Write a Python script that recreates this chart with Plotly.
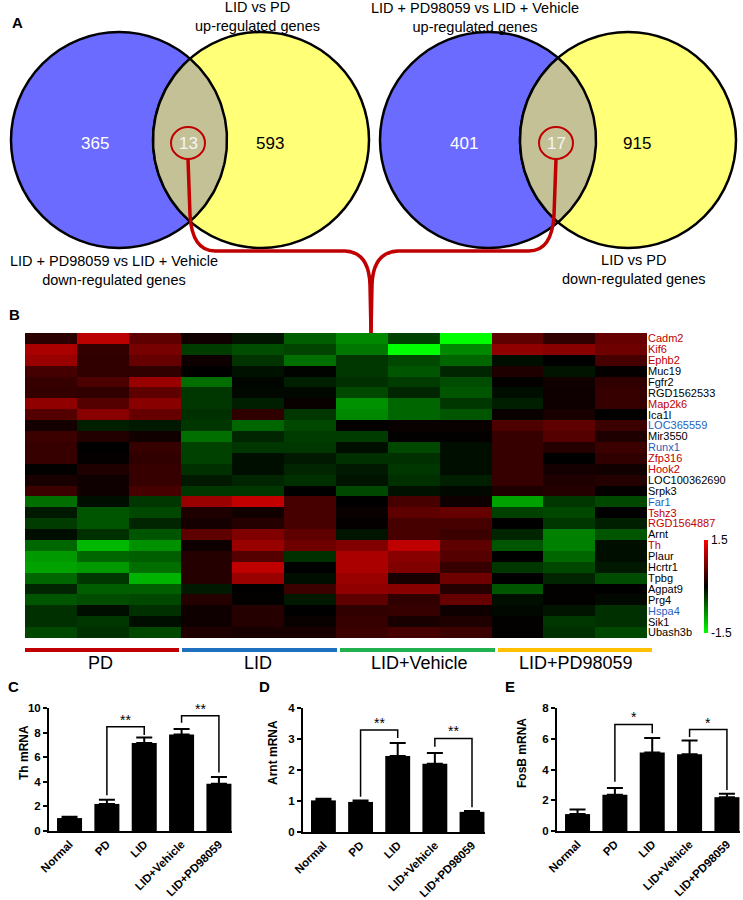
import numpy as np
import plotly.graph_objects as go

W, H = 743, 900
FONT = "Arial, Liberation Sans, sans-serif"

# ---------------- Venn data ----------------
venn_left_counts = [365, 13, 593]
venn_right_counts = [401, 17, 915]
venn_left_titles = ["LID vs PD", "up-regulated genes"]
venn_left_bottom = ["LID + PD98059 vs LID + Vehicle", "down-regulated genes"]
venn_right_titles = ["LID + PD98059 vs LID + Vehicle", "up-regulated genes"]
venn_right_bottom = ["LID vs PD", "down-regulated genes"]

# ---------------- Heatmap data ----------------
genes = ["Cadm2", "Kif6", "Ephb2", "Muc19", "Fgfr2", "RGD1562533", "Map2k6", "Ica1l",
         "LOC365559", "Mir3550", "Runx1", "Zfp316", "Hook2", "LOC100362690", "Srpk3",
         "Far1", "Tshz3", "RGD1564887", "Arnt", "Th", "Plaur", "Hcrtr1", "Tpbg",
         "Agpat9", "Prg4", "Hspa4", "Sik1", "Ubash3b"]
gene_class = ["r", "r", "r", "k", "k", "k", "r", "k",
              "b", "k", "b", "r", "r", "k", "k",
              "b", "r", "r", "k", "r", "k", "k", "k",
              "k", "k", "b", "k", "k"]
groups = ["PD", "LID", "LID+Vehicle", "LID+PD98059"]
samples = [f"{g} {i}" for g in groups for i in (1, 2, 3)]
heat = [
    [0.25, 1.1, 0.55, 0.1, -0.12, -0.55, -0.8, -0.38, -1.5, 0.55, 0.28, 0.6],
    [1.0, 0.3, 0.7, -0.35, -0.45, -0.4, -0.7, -1.5, -0.8, 0.85, 0.8, 0.65],
    [0.9, 0.28, 0.6, 0.08, -0.3, -0.65, -0.32, -0.42, -0.6, -0.08, 0.0, 0.42],
    [0.4, 0.28, 0.28, 0.0, -0.1, -0.02, -0.32, -0.5, -0.22, 0.18, -0.12, 0.03],
    [0.32, 0.45, 0.9, -0.65, -0.03, -0.18, -0.28, -0.35, -0.45, 0.02, 0.1, 0.28],
    [0.3, 0.28, 0.55, -0.32, -0.05, -0.05, -0.42, -0.22, -0.5, -0.08, 0.08, 0.32],
    [0.85, 0.5, 0.8, -0.32, -0.18, 0.05, -0.85, -0.6, -0.32, -0.18, 0.08, 0.32],
    [0.5, 0.8, 0.6, -0.28, 0.28, -0.32, -0.8, -0.6, -0.5, 0.05, 0.15, 0.0],
    [0.12, -0.18, -0.15, -0.32, -0.6, -0.42, 0.02, 0.05, 0.05, 0.45, 0.55, 0.35],
    [0.35, 0.2, 0.1, -0.65, -0.22, -0.35, -0.35, 0.02, 0.02, 0.32, 0.5, 0.18],
    [0.32, 0.0, 0.32, -0.38, -0.32, -0.32, -0.08, -0.42, -0.08, 0.32, 0.22, 0.35],
    [0.32, 0.03, 0.28, -0.38, -0.08, -0.15, -0.28, -0.28, -0.08, 0.32, 0.0, 0.28],
    [0.02, 0.18, 0.32, -0.28, -0.08, -0.22, -0.15, -0.32, -0.08, 0.32, 0.12, 0.1],
    [0.15, 0.08, 0.32, -0.15, -0.22, -0.28, -0.12, -0.28, -0.18, 0.32, 0.18, 0.22],
    [0.35, 0.08, 0.42, -0.32, -0.32, 0.0, -0.42, -0.1, -0.05, 0.18, 0.22, 0.03],
    [-0.65, -0.08, -0.32, 0.9, 1.15, 0.42, 0.0, 0.42, 0.08, -0.95, -0.32, -0.42],
    [-0.15, -0.5, -0.42, 0.18, 0.1, 0.42, 0.05, 0.55, 0.6, -0.38, -0.42, 0.0],
    [-0.35, -0.5, -0.22, 0.12, 0.22, 0.42, 0.03, 0.42, 0.42, 0.0, -0.32, -0.18],
    [-0.08, -0.28, -0.5, 0.55, 0.75, 0.55, -0.12, 0.42, 0.35, -0.22, -0.75, -0.5],
    [-0.6, -1.08, -0.85, 0.08, 0.9, 0.65, 0.75, 1.12, 0.55, -0.5, -0.75, -0.08],
    [-0.9, -0.6, -0.55, 0.22, 0.5, -0.28, 1.0, 0.8, 0.5, 0.0, -0.6, -0.08],
    [-0.95, -0.9, -0.65, 0.22, 1.12, 0.0, 1.0, 0.75, 0.32, -0.32, -0.42, -0.15],
    [-0.6, -0.32, -1.05, 0.22, 0.9, -0.08, 0.9, 0.15, 0.65, 0.0, -0.22, -0.45],
    [-0.22, -0.55, -0.55, -0.15, 0.0, 0.35, 0.85, 0.8, 0.22, -0.5, 0.02, 0.0],
    [-0.5, -0.45, -0.42, 0.22, 0.02, -0.15, 0.55, 0.28, 0.6, -0.08, 0.02, -0.05],
    [-0.28, -0.08, -0.28, 0.08, 0.22, 0.0, 0.28, 0.32, 0.08, -0.05, -0.12, -0.28],
    [-0.28, -0.32, -0.08, 0.08, 0.22, 0.05, 0.32, 0.15, 0.18, 0.02, -0.32, -0.28],
    [-0.42, -0.28, -0.42, 0.18, 0.15, 0.15, 0.35, 0.42, 0.35, 0.02, -0.28, -0.42],
]
color_range = [-1.5, 1.5]

# ---------------- qPCR bar data ----------------
conditions = ["Normal", "PD", "LID", "LID+Vehicle", "LID+PD98059"]
th_mean = [1.05, 2.2, 7.15, 7.85, 3.85]
th_sem = [0.1, 0.35, 0.45, 0.45, 0.55]
arnt_mean = [1.02, 0.97, 2.45, 2.2, 0.65]
arnt_sem = [0.05, 0.05, 0.42, 0.35, 0.03]
fosb_mean = [1.1, 2.35, 5.1, 5.0, 2.2]
fosb_sem = [0.3, 0.45, 0.95, 0.88, 0.22]
# brackets: (from, to, top, left-leg bottom, right-leg bottom, label)
th_brackets = [("PD", "LID", 8.48, 2.9, 7.8, "**"),
               ("LID+Vehicle", "LID+PD98059", 9.37, 8.8, 4.75, "**")]
arnt_brackets = [("PD", "LID", 3.29, 1.14, 3.03, "**"),
                 ("LID+Vehicle", "LID+PD98059", 3.02, 2.75, 0.8, "**")]
fosb_brackets = [("PD", "LID", 6.93, 3.2, 6.36, "*"),
                 ("LID+Vehicle", "LID+PD98059", 6.6, 6.12, 2.66, "*")]
y_titles = ["Th mRNA", "Arnt mRNA", "FosB mRNA"]

# ---------------- styling / layout constants ----------------
BLUE = "#6B6BFF"
YELLOW = "#FFFF78"
KHAKI = "#C4C197"
RED = "#C00000"
gene_colors = {"r": "#C00000", "b": "#1F5FBF", "k": "#000000"}
group_colors = ["#C00000", "#2070C0", "#20B050", "#FFC000"]

def px_x(p):
    return p / W

def px_y(p):
    return 1 - p / H

fig = go.Figure()

# ---------- Panel A: Venn diagrams (overlay pixel axis x6/y6) ----------
R = 108
CY = 140
venns = [((119, 261), venn_left_counts), ((488, 628), venn_right_counts)]
shapes = []
annotations = []
for (cxl, cxr), counts in venns:
    shapes.append(dict(type="circle", xref="x6", yref="y6", x0=cxl - R, x1=cxl + R,
                       y0=CY - R, y1=CY + R, fillcolor=BLUE,
                       line=dict(color="black", width=2.5), layer="below"))
    shapes.append(dict(type="circle", xref="x6", yref="y6", x0=cxr - R, x1=cxr + R,
                       y0=CY - R, y1=CY + R, fillcolor=YELLOW,
                       line=dict(color="black", width=2.5), layer="below"))
    d = cxr - cxl
    a = np.arccos(d / 2 / R)
    t1 = np.linspace(-a, a, 80)
    t2 = np.linspace(np.pi - a, np.pi + a, 80)
    lx = np.concatenate([cxl + R * np.cos(t1), cxr + R * np.cos(t2)])
    ly = np.concatenate([CY + R * np.sin(t1), CY + R * np.sin(t2)])
    fig.add_trace(go.Scatter(x=lx, y=ly, mode="lines", fill="toself", fillcolor=KHAKI,
                             line=dict(color="black", width=2.5), xaxis="x6", yaxis="y6",
                             hoverinfo="skip", showlegend=False))
    xm = (cxl + cxr) / 2 - 2
    shapes.append(dict(type="circle", xref="x6", yref="y6", x0=xm - 17, x1=xm + 17,
                       y0=CY + 3 - 16, y1=CY + 3 + 16, line=dict(color=RED, width=2),
                       layer="above"))
    pos = [(cxl - 24, "white"), (xm, "#F4F4F4"), (cxr + 9, "black")]
    for (xx, col), n in zip(pos, counts):
        annotations.append(dict(x=xx, y=CY + 3, xref="x6", yref="y6", text=str(n),
                                showarrow=False, font=dict(size=17, color=col, family=FONT)))

def two_lines(lines, xc, yc):
    annotations.append(dict(x=xc, y=yc, xref="x6", yref="y6", text="<br>".join(lines),
                            showarrow=False, align="center", yanchor="middle",
                            font=dict(size=14.5, color="black", family=FONT)))

two_lines(venn_left_titles, 257, 16)
two_lines(venn_right_titles, 475, 17)
two_lines(venn_left_bottom, 114, 270)
two_lines(venn_right_bottom, 634, 269)

# connector brace
shapes.append(dict(type="path", xref="x6", yref="y6",
                   path="M 188,159 L 190,215 Q 192,251 215,251 L 345,251 Q 369,252 370,285 L 371,333",
                   line=dict(color=RED, width=3.5), layer="above"))
shapes.append(dict(type="path", xref="x6", yref="y6",
                   path="M 556,159 L 554,215 Q 552,251 529,251 L 398,251 Q 373,252 372,285 L 371,333",
                   line=dict(color=RED, width=3.5), layer="above"))

# panel letters
for letter, xx, yy in [("A", 17, 22), ("B", 14, 314), ("C", 13, 686), ("D", 264, 686), ("E", 510, 686)]:
    annotations.append(dict(x=xx, y=yy, xref="x6", yref="y6", text=f"<b>{letter}</b>",
                            showarrow=False, font=dict(size=15, color="black", family=FONT)))

# ---------- Panel B: heatmap ----------
fig.add_trace(go.Heatmap(
    z=heat, x=list(range(len(samples))), y=list(range(len(genes))),
    zmin=color_range[0], zmax=color_range[1],
    colorscale=[[0, "#00FF00"], [0.5, "#000000"], [1, "#FF0000"]],
    xaxis="x", yaxis="y", hoverinfo="skip",
    colorbar=dict(x=px_x(704), xanchor="left", xpad=0, ypad=0, y=px_y(586.5), yanchor="middle",
                  lenmode="pixels", len=93, thickness=4, outlinewidth=0,
                  tickvals=color_range, ticktext=["-1.5", "1.5"], ticks="",
                  tickfont=dict(size=12, color="black", family=FONT)),
))
ticktext = [f'<span style="color:{gene_colors[c]}">{g}</span>' for g, c in zip(genes, gene_class)]

# group bars + labels
gx = [(25, 179), (182, 337), (340, 495), (498, 652)]
glx = [100, 258, 419, 576]
for (x0, x1), col, lab, lx_ in zip(gx, group_colors, groups, glx):
    shapes.append(dict(type="rect", xref="x6", yref="y6", x0=x0, x1=x1, y0=648, y1=652,
                       fillcolor=col, line=dict(width=0), layer="above"))
    annotations.append(dict(x=lx_, y=663, xref="x6", yref="y6", text=lab, showarrow=False,
                            font=dict(size=18, color="black", family=FONT)))

# ---------- Panels C, D, E: bar charts ----------
bar_panels = [
    ("x2", "y2", th_mean, th_sem, th_brackets),
    ("x3", "y3", arnt_mean, arnt_sem, arnt_brackets),
    ("x4", "y4", fosb_mean, fosb_sem, fosb_brackets),
]
for xa, ya, mean, sem, brackets in bar_panels:
    fig.add_trace(go.Bar(x=conditions, y=mean, width=0.67, marker=dict(color="black", line=dict(width=0)),
                         error_y=dict(type="data", array=sem, arrayminus=[0] * len(sem), symmetric=False,
                                      color="black", thickness=2, width=8),
                         xaxis=xa, yaxis=ya, showlegend=False, hoverinfo="skip"))
    for a, b, top, yl, yr, lab in brackets:
        fig.add_trace(go.Scatter(x=[a, a, b, b], y=[yl, top, top, yr], mode="lines",
                                 line=dict(color="black", width=1.5), xaxis=xa, yaxis=ya,
                                 showlegend=False, hoverinfo="skip"))
        ia, ib = conditions.index(a), conditions.index(b)
        annotations.append(dict(x=(ia + ib) / 2, y=top, xref=xa, yref=ya, text=lab,
                                showarrow=False, yanchor="bottom", yshift=-3,
                                font=dict(size=14, color="black", family=FONT)))

# y-axis titles (as rotated annotations for exact placement)
for t, xx in zip(y_titles, [24, 273, 522]):
    annotations.append(dict(x=xx, y=753, xref="x6", yref="y6", text=f"<b>{t}</b>",
                            textangle=-90, showarrow=False,
                            font=dict(size=12, color="black", family=FONT)))

def bar_yaxis(domain, rng, dtick, anchor):
    return dict(domain=domain, range=rng, dtick=dtick, tick0=0, anchor=anchor, automargin=False,
                showline=True, linecolor="black", linewidth=2, ticks="outside",
                ticklen=4, tickwidth=2, tickcolor="black", showgrid=False, zeroline=False,
                tickfont=dict(size=11.5, color="black", family=FONT),
                tickprefix="<b>", ticksuffix="</b>")

def bar_xaxis(domain, anchor):
    return dict(domain=domain, range=[-0.55, 4.35], anchor=anchor, type="category", automargin=False,
                showline=True, linecolor="black", linewidth=2, ticks="", showgrid=False,
                tickangle=-45, tickfont=dict(size=11.5, color="black", family=FONT),
                tickvals=conditions, ticktext=[f"<b>{c}</b>" for c in conditions])

fig.update_layout(
    width=W, height=H, margin=dict(l=0, r=0, t=0, b=0, autoexpand=False),
    paper_bgcolor="white", plot_bgcolor="rgba(0,0,0,0)",
    showlegend=False, font=dict(family=FONT, color="black"),
    xaxis=dict(domain=[px_x(25), px_x(647)], range=[-0.5, 11.5], visible=False, anchor="y",
               automargin=False),
    yaxis=dict(domain=[px_y(638), px_y(333)], range=[27.5, -0.5], anchor="x", side="right",
               tickmode="array", tickvals=list(range(len(genes))), ticktext=ticktext,
               ticks="", showgrid=False, zeroline=False, showline=False, automargin=False,
               tickfont=dict(size=11, color="black", family=FONT)),
    xaxis2=bar_xaxis([px_x(49), px_x(232)], "y2"),
    yaxis2=bar_yaxis([px_y(831), px_y(708)], [0, 10], 2, "x2"),
    xaxis3=bar_xaxis([px_x(303), px_x(485)], "y3"),
    yaxis3=bar_yaxis([px_y(832), px_y(708)], [0, 4], 1, "x3"),
    xaxis4=bar_xaxis([px_x(557), px_x(740)], "y4"),
    yaxis4=bar_yaxis([px_y(831), px_y(708)], [0, 8], 2, "x4"),
    xaxis6=dict(domain=[0, 1], range=[0, W], visible=False, anchor="y6", fixedrange=True),
    yaxis6=dict(domain=[0, 1], range=[H, 0], visible=False, anchor="x6", fixedrange=True),
    shapes=shapes, annotations=annotations,
)

fig.write_html("out.html", config={"displayModeBar": False},
               post_script="document.body.style.margin='0';document.body.style.overflow='hidden';")
